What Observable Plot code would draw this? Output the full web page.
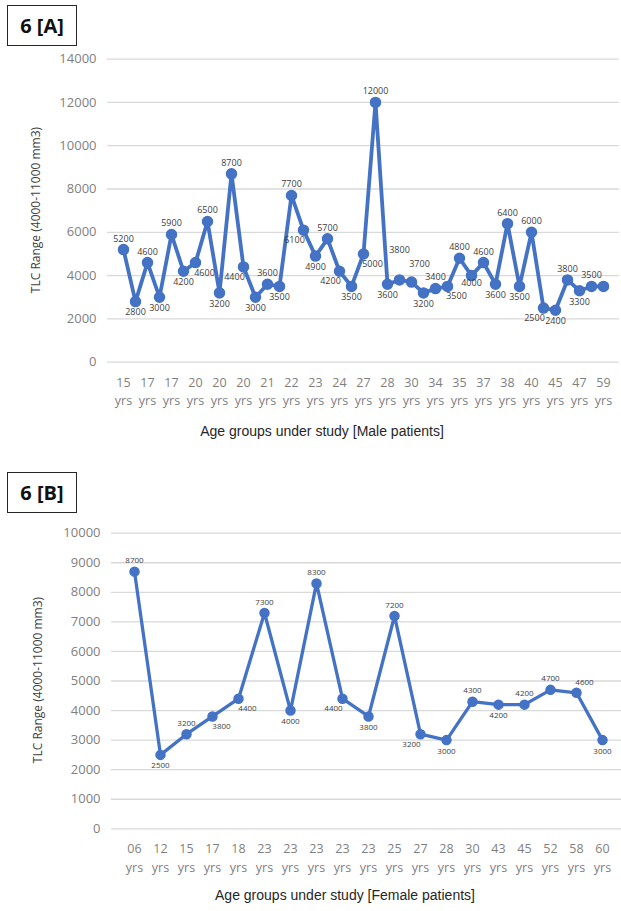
<!DOCTYPE html>
<html>
<head>
<meta charset="utf-8">
<script src="https://cdn.jsdelivr.net/npm/d3@7"></script>
<script src="https://cdn.jsdelivr.net/npm/@observablehq/plot@0.6"></script>
<style>
  html, body { margin: 0; padding: 0; background: #fff; }
  body { width: 621px; height: 911px; overflow: hidden; font-family: "Open Sans", sans-serif; }
  .panel { position: relative; width: 621px; }
  .panel svg { display: block; }
  .tag { position: absolute; left: 7px; width: 70px; height: 41px; box-sizing: border-box;
         border: 1px solid #262626; background: #fff; display: flex; align-items: center; justify-content: center;
         font: bold 20px "Open Sans", sans-serif; color: #111; }
  .xtitle { position: absolute; transform: translate(-50%, -50%); white-space: nowrap;
            font: 14px "Liberation Sans", Arial, sans-serif; color: #262626; }
  .ytitle { position: absolute; transform: translate(-50%, -50%) rotate(-90deg); white-space: nowrap;
            font: 12px "Open Sans", sans-serif; color: #404040; }
</style>
</head>
<body>
<div id="panelA" class="panel">
  <div class="tag" style="top:5px">6 [A]</div>
  <div class="ytitle" style="left:35px; top:210px">TLC Range (4000-11000 mm3)</div>
  <div class="xtitle" style="left:322px; top:431px">Age groups under study [Male patients]</div>
</div>
<div id="panelB" class="panel">
  <div class="tag" style="top:17px">6 [B]</div>
  <div class="ytitle" style="left:37px; top:225px">TLC Range (4000-11000 mm3)</div>
  <div class="xtitle" style="left:345px; top:440px">Age groups under study [Female patients]</div>
</div>
<script>
// ---- Data: 6 [A] Male patients ----
// category labels shown on the axis (every second point is labelled)
const maleAgeLabels = ["15","17","17","20","20","20","21","22","23","24","27","28","30","34","35","37","38","40","45","47","59"];
const maleTLC = [5200,2800,4600,3000,5900,4200,4600,6500,3200,8700,4400,3000,3600,3500,7700,6100,4900,5700,4200,3500,5000,12000,3600,3800,3700,3200,3400,3500,4800,4000,4600,3600,6400,3500,6000,2500,2400,3800,3300,3500,3500];
const maleUnlabelled = [40];   // point without a data label in the reference
const maleYTicks = [0,2000,4000,6000,8000,10000,12000,14000];

// ---- Data: 6 [B] Female patients ----
const femaleAgeLabels = ["06","12","15","17","18","23","23","23","23","23","25","27","28","30","43","45","52","58","60"];
const femaleTLC = [8700,2500,3200,3800,4400,7300,4000,8300,4400,3800,7200,3200,3000,4300,4200,4200,4700,4600,3000];
const femaleUnlabelled = [];
const femaleYTicks = [0,1000,2000,3000,4000,5000,6000,7000,8000,9000,10000];

const unit = "yrs";
const BLUE = "#4472C4";

// data-label placement: above if the point sits above its neighbours' mean, else below;
// labels on a steady rise / fall are nudged sideways
function rows(vals, skip) {
  const out = [];
  vals.forEach((v, i) => {
    const nb = [];
    if (i > 0) nb.push(vals[i - 1]);
    if (i < vals.length - 1) nb.push(vals[i + 1]);
    let up = v > d3.mean(nb);
    if (i > 0 && v === vals[i - 1] && up === out[i - 1].up) up = !up;
    let side = 0;
    if (i > 0 && i < vals.length - 1) {
      const rising = vals[i - 1] < v && v < vals[i + 1];
      const falling = vals[i - 1] > v && v > vals[i + 1];
      if (!up) side = rising ? 1 : falling ? -1 : 0;
      else side = falling ? 1 : 0;
    }
    out.push({i, v, up, side, show: !skip.includes(i)});
  });
  return out.filter(d => d.show);
}

function chart({vals, skip, tickText, tickEvery, yTicks, yMax, height, marginTop, marginBottom, marginLeft, xRange, labelSize, dotR, lineW}) {
  const all = vals.map((v, i) => ({i, v}));
  const lab = rows(vals, skip);
  const xOpts = {type: "point", domain: d3.range(vals.length), padding: 0.5};
  if (xRange) xOpts.range = xRange;
  const txt = (filter, dx, dy) => Plot.text(lab.filter(filter), {
    x: "i", y: "v", text: d => String(d.v), dx, dy, lineAnchor: "middle",
    fontSize: labelSize, fill: "#404040"
  });
  return Plot.plot({
    width: 621,
    height,
    marginTop,
    marginBottom,
    marginLeft,
    marginRight: xRange ? 0 : 2,
    style: {fontFamily: "'Open Sans', sans-serif", background: "#fff"},
    x: xOpts,
    y: {domain: [0, yMax]},
    marks: [
      Plot.gridY({ticks: yTicks, stroke: "#d9d9d9", strokeOpacity: 1, strokeWidth: 1.3}),
      Plot.axisY({ticks: yTicks, tickSize: 0, tickPadding: 11, fontSize: 13, fill: "#7f7f7f", label: null, tickFormat: d => String(d)}),
      Plot.axisX({
        tickSize: 0, tickPadding: 11, fontSize: 12.5, fill: "#7f7f7f", lineHeight: 1.5, label: null,
        tickFormat: i => (i % tickEvery === 0 ? tickText(i / tickEvery) + "\n" + unit : "")
      }),
      Plot.line(all, {x: "i", y: "v", stroke: BLUE, strokeWidth: lineW, strokeLinejoin: "round"}),
      Plot.dot(all, {x: "i", y: "v", r: dotR, fill: BLUE, stroke: BLUE}),
      txt(d => d.up && d.side === 0, 0, -11),
      txt(d => d.up && d.side === 1, 8, -10),
      txt(d => !d.up && d.side === 0, 0, 11),
      txt(d => !d.up && d.side === 1, 9, 10),
      txt(d => !d.up && d.side === -1, -9, 10)
    ]
  });
}

// nudge overlapping data labels apart (the higher one moves up)
function declutter(svg) {
  const texts = Array.from(svg.querySelectorAll('g[aria-label="text"] text'));
  for (let pass = 0; pass < 6; pass++) {
    let moved = false;
    for (let a = 0; a < texts.length; a++) {
      for (let b = a + 1; b < texts.length; b++) {
        const r1 = texts[a].getBoundingClientRect(), r2 = texts[b].getBoundingClientRect();
        const ox = Math.min(r1.right, r2.right) - Math.max(r1.left, r2.left);
        const oy = Math.min(r1.bottom, r2.bottom) - Math.max(r1.top, r2.top);
        if (ox > 0.5 && oy > 0.5) {
          const upper = (r1.top + r1.bottom) <= (r2.top + r2.bottom) ? texts[a] : texts[b];
          const cur = +(upper.getAttribute("dy") || 0);
          upper.setAttribute("dy", cur - oy - 0.5);
          moved = true;
        }
      }
    }
    if (!moved) break;
  }
}

const a = chart({
  vals: maleTLC, skip: maleUnlabelled, tickText: k => maleAgeLabels[k], tickEvery: 2, yTicks: maleYTicks, yMax: 14000,
  height: 455, marginTop: 58.6, marginBottom: 93.3, marginLeft: 107, labelSize: 9, dotR: 5, lineW: 3.8
});
document.getElementById("panelA").prepend(a);
declutter(a);

const b = chart({
  vals: femaleTLC, skip: femaleUnlabelled, tickText: k => femaleAgeLabels[k], tickEvery: 1, yTicks: femaleYTicks, yMax: 10000,
  height: 456, marginTop: 77.7, marginBottom: 82.7, marginLeft: 111, xRange: [111.5, 624],
  labelSize: 8, dotR: 4.5, lineW: 3.3
});
document.getElementById("panelB").prepend(b);
declutter(b);
</script>
</body>
</html>
